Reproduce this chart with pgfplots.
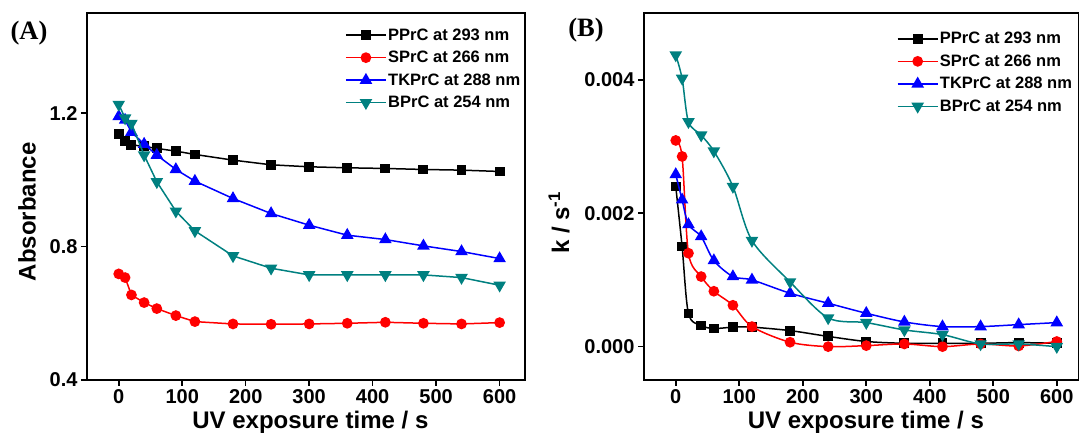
\documentclass[border=0pt]{standalone}
\usepackage{fontspec}
\setmainfont{Liberation Sans}
\newfontfamily\timesfont{Liberation Serif}
\usepackage{pgfplots}
\pgfplotsset{compat=1.18}

\definecolor{cRed}{RGB}{255,0,0}
\definecolor{cBlue}{RGB}{0,0,255}
\definecolor{cCyan}{RGB}{0,128,128}

\pgfplotsset{
  panel/.style={
    scale only axis, height=367pt,
    xmin=-50, clip mode=individual,
    axis line style={line width=2pt},
    tick style={line width=1.6pt, black},
    major tick length=6pt, tick align=outside, tick pos=left,
    xtick={0,100,...,600},
    /pgf/number format/assume math mode=true,
    ticklabel style={font=\bfseries\fontsize{20}{24}\selectfont},
    label style={font=\bfseries\fontsize{24}{28}\selectfont},
    xlabel={UV exposure time / s},
    xlabel style={at={(axis description cs:0.51,-0.133)}, anchor=base},
    legend cell align=left,
    legend style={draw=none, fill=none, inner sep=0pt, row sep=6.5pt,
      font=\bfseries\fontsize{16.5}{19}\selectfont,
      nodes={inner sep=1.5pt}},
  },
  myleg/.style={legend image code/.code={
      \draw[mark repeat=2,mark phase=2] plot coordinates {(0pt,0pt)(20pt,0pt)(40pt,0pt)};}},
  sP/.style={black, line width=1.5pt, mark=square*, mark size=4.2pt, mark options={solid}, myleg},
  sS/.style={cRed, line width=1.5pt, mark=*, mark size=4.6pt, mark options={solid}, myleg},
  sT/.style={cBlue, line width=1.5pt, mark=triangle*, mark size=5.8pt, mark options={solid}, myleg},
  sB/.style={cCyan, line width=1.5pt, mark=triangle*, mark size=5.8pt, mark options={solid, rotate=180}, myleg},
  straight/.style={smooth, tension=0},
}

\begin{document}
\begin{tikzpicture}
\useasboundingbox (0,0) rectangle (1079pt,435pt);

% (A) absorbance
\begin{axis}[panel,
  at={(87pt,55pt)}, anchor=south west, width=438pt,
  xmax=640, ymin=0.4, ymax=1.5,
  ytick={0.4,0.8,1.2},
  yticklabel style={/pgf/number format/.cd, fixed, fixed zerofill, precision=1},
  ylabel={Absorbance},
  ylabel style={at={(axis description cs:-0.137,0.458)}, anchor=center},
  legend style={at={(axis description cs:0.589,0.962)}, anchor=north west},
]
\addplot[straight, sP] coordinates {
  (0,1.136) (10,1.115) (20,1.105) (40,1.100) (60,1.094) (90,1.086) (120,1.076)
  (180,1.059) (240,1.045) (300,1.039) (360,1.036) (420,1.034) (480,1.031) (540,1.029) (600,1.025)};
\addlegendentry{PPrC at 293 nm}
\addplot[straight, sS] coordinates {
  (0,0.718) (10,0.707) (20,0.655) (40,0.632) (60,0.614) (90,0.593) (120,0.575)
  (180,0.568) (240,0.567) (300,0.568) (360,0.570) (420,0.573) (480,0.570) (540,0.568) (600,0.572)};
\addlegendentry{SPrC at 266 nm}
\addplot[straight, sT] coordinates {
  (0,1.190) (10,1.179) (20,1.143) (40,1.107) (60,1.074) (90,1.031) (120,0.996)
  (180,0.944) (240,0.899) (300,0.864) (360,0.834) (420,0.821) (480,0.802) (540,0.785) (600,0.764)};
\addlegendentry{TKPrC at 288 nm}
\addplot[straight, sB] coordinates {
  (0,1.226) (10,1.185) (20,1.169) (40,1.074) (60,0.994) (90,0.906) (120,0.847)
  (180,0.772) (240,0.735) (300,0.715) (360,0.715) (420,0.715) (480,0.715) (540,0.707) (600,0.684)};
\addlegendentry{BPrC at 254 nm}
\end{axis}
\node[font=\timesfont\bfseries\fontsize{26.5}{30}\selectfont] at (29pt,402pt) {(A)};

% (B) rate constant
\begin{axis}[panel,
  at={(644pt,55pt)}, anchor=south west, width=435pt,
  xmax=635, ymin=-0.0005, ymax=0.005,
  ytick={0,0.002,0.004}, scaled y ticks=false,
  yticklabel style={/pgf/number format/.cd, fixed, fixed zerofill, precision=3},
  ylabel={k / s\textsuperscript{-1}},
  ylabel style={at={(axis description cs:-0.195,0.428)}, anchor=center},
  legend style={at={(axis description cs:0.581,0.952)}, anchor=north west},
]
\addplot[smooth, sP] coordinates {
  (0,0.00240) (10,0.00150) (20,0.000496) (40,0.000317) (60,0.000271) (90,0.000292) (120,0.000292)
  (180,0.00024) (240,0.000153) (300,0.000077) (360,0.00005) (420,0.00005) (480,0.00005) (540,0.00006) (600,0.00005)};
\addlegendentry{PPrC at 293 nm}
\addplot[smooth, sS] coordinates {
  (0,0.00309) (10,0.00285) (20,0.00140) (40,0.00105) (60,0.00083) (90,0.00062) (120,0.00030)
  (180,0.000066) (240,0.0) (300,0.000015) (360,0.00004) (420,0.0) (480,0.00004) (540,0.00001) (600,0.000077)};
\addlegendentry{SPrC at 266 nm}
\addplot[smooth, sT] coordinates {
  (0,0.00258) (10,0.00220) (20,0.00183) (40,0.00165) (60,0.00129) (90,0.00105) (120,0.00100)
  (180,0.00080) (240,0.00065) (300,0.00050) (360,0.00037) (420,0.00030) (480,0.00030) (540,0.00033) (600,0.00036)};
\addlegendentry{TKPrC at 288 nm}
\addplot[smooth, sB] coordinates {
  (0,0.00437) (10,0.00402) (20,0.00337) (40,0.00317) (60,0.00293) (90,0.00240) (120,0.00159)
  (180,0.00097) (240,0.00043) (300,0.00036) (360,0.00025) (420,0.00018) (480,0.00004) (540,0.00004) (600,0.0)};
\addlegendentry{BPrC at 254 nm}
\end{axis}
\node[font=\timesfont\bfseries\fontsize{26.5}{30}\selectfont] at (586pt,405pt) {(B)};
\end{tikzpicture}
\end{document}
